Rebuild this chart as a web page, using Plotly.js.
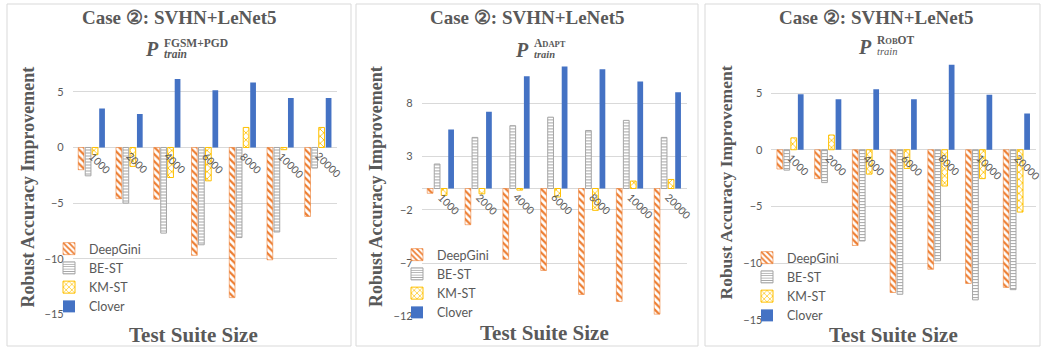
<!DOCTYPE html>
<html><head><meta charset="utf-8">
<script src="https://cdn.plot.ly/plotly-3.0.1.min.js"></script>
<style>html,body{margin:0;padding:0;background:#fff}#chart{width:1042px;height:350px}</style>
</head><body><div id="chart"></div><script>
// Test suite sizes (categories) and compared methods
const sizes = ['1000', '2000', '4000', '6000', '8000', '10000', '20000'];
const methods = ['DeepGini', 'BE-ST', 'KM-ST', 'Clover'];

// Robust accuracy improvement, P_train = FGSM+PGD
const fgsmDeepGini = [-2.0, -4.6, -4.65, -9.7, -13.5, -10.1, -6.2];
const fgsmBEST     = [-2.55, -5.0, -7.7, -8.75, -8.1, -7.6, -1.85];
const fgsmKMST     = [-0.65, -1.7, -2.7, -3.0, 1.8, -0.2, 1.8];
const fgsmClover   = [3.5, 3.0, 6.15, 5.15, 5.85, 4.45, 4.45];

// Robust accuracy improvement, P_train = Adapt
const adaptDeepGini = [-0.45, -3.4, -6.65, -7.7, -9.95, -10.6, -11.8];
const adaptBEST     = [2.3, 4.8, 5.9, 6.7, 5.45, 6.4, 4.8];
const adaptKMST     = [-0.65, -0.5, -0.15, -0.8, -2.05, 0.7, 0.85];
const adaptClover   = [5.55, 7.2, 10.55, 11.45, 11.2, 10.05, 9.05];

// Robust accuracy improvement, P_train = RobOT
const robotDeepGini = [-1.7, -2.55, -8.45, -12.6, -10.55, -11.8, -12.15];
const robotBEST     = [-1.8, -2.9, -8.05, -12.75, -9.8, -13.25, -12.35];
const robotKMST     = [1.05, 1.3, -2.15, -1.65, -3.2, -2.55, -5.5];
const robotClover   = [4.9, 4.45, 5.35, 4.45, 7.5, 4.85, 3.2];

// Y tick values per panel
const ticksA = [-15, -10, -5, 0, 5];
const ticksB = [-12, -7, -2, 3, 8];

const W = 1042, H = 350;
const px = v => v / W;
const py = v => 1 - v / H;

const GRAY = '#595959';
const SERIF = 'Liberation Serif, Times New Roman, serif';
const SANS = 'Lato, Open Sans, sans-serif';

const markerStyles = [
  {color: '#ED7D31', pattern: {shape: '\\', fgcolor: '#ED7D31', bgcolor: '#FFFFFF', size: 5, solidity: 0.45}, line: {color: '#ED7D31', width: 0.6}},
  {color: '#A5A5A5', pattern: {shape: '-', fgcolor: '#A5A5A5', bgcolor: '#FFFFFF', size: 3, solidity: 0.35}, line: {color: '#A5A5A5', width: 1}},
  {color: '#FFC000', pattern: {shape: 'x', fgcolor: '#FFC000', bgcolor: '#FFFFFF', size: 5, solidity: 0.3}, line: {color: '#FFC000', width: 1}},
  {color: '#4472C4', line: {width: 0}}
];

const panels = [
  {series: [fgsmDeepGini, fgsmBEST, fgsmKMST, fgsmClover], ax: '', leg: 'legend'},
  {series: [adaptDeepGini, adaptBEST, adaptKMST, adaptClover], ax: '2', leg: 'legend2'},
  {series: [robotDeepGini, robotBEST, robotKMST, robotClover], ax: '3', leg: 'legend3'}
];

const traces = [];
panels.forEach(p => {
  p.series.forEach((vals, i) => {
    traces.push({
      type: 'bar', x: sizes, y: vals, name: methods[i],
      xaxis: 'x' + p.ax, yaxis: 'y' + p.ax, legend: p.leg,
      marker: markerStyles[i], hoverinfo: 'x+y+name'
    });
  });
});

function yaxis(domain, range, ticks) {
  return {
    domain: domain, range: range, tickvals: ticks, showgrid: true, gridcolor: '#D9D9D9', gridwidth: 1,
    zeroline: true, zerolinecolor: '#D9D9D9', zerolinewidth: 1, showline: false, ticks: '',
    ticklabelstandoff: 8, tickfont: {family: SANS, size: 11, color: GRAY}, fixedrange: true
  };
}
function xaxis(domain, anchor) {
  return {domain: domain, anchor: anchor, type: 'category', range: [-0.5, sizes.length - 0.5],
          showgrid: false, zeroline: false, showline: false, showticklabels: false, ticks: '', fixedrange: true};
}
function legend(x, y) {
  return {x: px(x), y: py(y), xanchor: 'left', yanchor: 'top', bgcolor: 'rgba(0,0,0,0)',
          font: {family: SANS, size: 12.5, color: GRAY}, traceorder: 'normal', itemclick: false, itemdoubleclick: false};
}

const annotations = [];
const shapes = [];
const boxes = [[7, 351], [356, 698], [705, 1040]];
boxes.forEach(b => shapes.push({type: 'rect', xref: 'paper', yref: 'paper', x0: px(b[0]), x1: px(b[1]), y0: py(346), y1: py(4),
  line: {color: '#D9D9D9', width: 1}, fillcolor: 'rgba(0,0,0,0)', layer: 'below'}));

function txt(text, x, y, size, opts) {
  annotations.push(Object.assign({text: text, x: px(x), y: py(y), xref: 'paper', yref: 'paper', showarrow: false,
    xanchor: 'center', yanchor: 'middle', borderpad: 0, font: {family: SERIF, size: size, color: GRAY}}, opts || {}));
}

// Panel titles
[179, 527, 876].forEach(cx => txt('<b>Case ②: SVHN+LeNet5</b>', cx, 17, 19));

// Subtitles: bold italic P followed by a stacked superscript / subscript block
function subtitle(pRight, pY, blockY, lineGap, sup, sub) {
  txt('<b><i>P</i></b>', pRight, pY, 20, {xanchor: 'right'});
  txt(sup + '<br>' + sub, pRight + 3, blockY, lineGap / 1.3, {xanchor: 'left', align: 'left'});
}
subtitle(160, 48.5, 48.3, 10.5, '<b><span style="font-size:11.5px">FGSM+PGD</span></b>',
         '<b><i><span style="font-size:11.5px">train</span></i></b>');
subtitle(530, 49.5, 48.3, 11, '<b><span style="font-size:11.5px">A</span><span style="font-size:8.5px">DAPT</span></b>',
         '<b><i><span style="font-size:10.5px">train</span></i></b>');
subtitle(873, 46.5, 45.8, 10.5, '<b><span style="font-size:11.5px">R</span><span style="font-size:8.5px">OB</span><span style="font-size:11.5px">OT</span></b>',
         '<i><span style="font-size:10.5px">train</span></i>');

// Axis titles
[[27, 187.5, 18], [376, 187, 18], [725, 182.5, 17.5]].forEach(a =>
  txt('<b>Robust Accuracy Improvement</b>', a[0], a[1], a[2], {textangle: -90}));
[[193, 335], [544, 333], [893, 335]].forEach(a => txt('<b>Test Suite Size</b>', a[0], a[1], 21));

// Category labels along the zero line (x given as category index)
['', '2', '3'].forEach(ax => {
  sizes.forEach((s, i) => annotations.push({text: s, x: i, y: 0, xref: 'x' + ax, yref: 'y' + ax, showarrow: false,
    textangle: 45, xanchor: 'left', yanchor: 'top', xshift: -6, yshift: -1, borderpad: 0,
    font: {family: SANS, size: 10.5, color: GRAY}}));
});

const layout = {
  width: W, height: H, margin: {l: 0, r: 0, t: 0, b: 0},
  paper_bgcolor: '#FFFFFF', plot_bgcolor: 'rgba(0,0,0,0)',
  barmode: 'group', bargap: 0.26, bargroupgap: 0.18,
  xaxis: xaxis([px(72.7), px(337)], 'y'),
  yaxis: yaxis([py(314.3), py(58.5)], [-15, 8], ticksA),
  xaxis2: xaxis([px(421.7), px(686.5)], 'y2'),
  yaxis2: Object.assign(yaxis([py(316.3), py(55.4)], [-12, 12.5], ticksB), {anchor: 'x2'}),
  xaxis3: xaxis([px(771.4), px(1035.5)], 'y3'),
  yaxis3: Object.assign(yaxis([py(319.7), py(59.1)], [-15, 8], ticksA), {anchor: 'x3'}),
  legend: legend(49, 234),
  legend2: legend(397, 240),
  legend3: legend(747, 243),
  annotations: annotations, shapes: shapes, showlegend: true
};

Plotly.newPlot('chart', traces, layout, {displayModeBar: false, staticPlot: true});
</script></body></html>
